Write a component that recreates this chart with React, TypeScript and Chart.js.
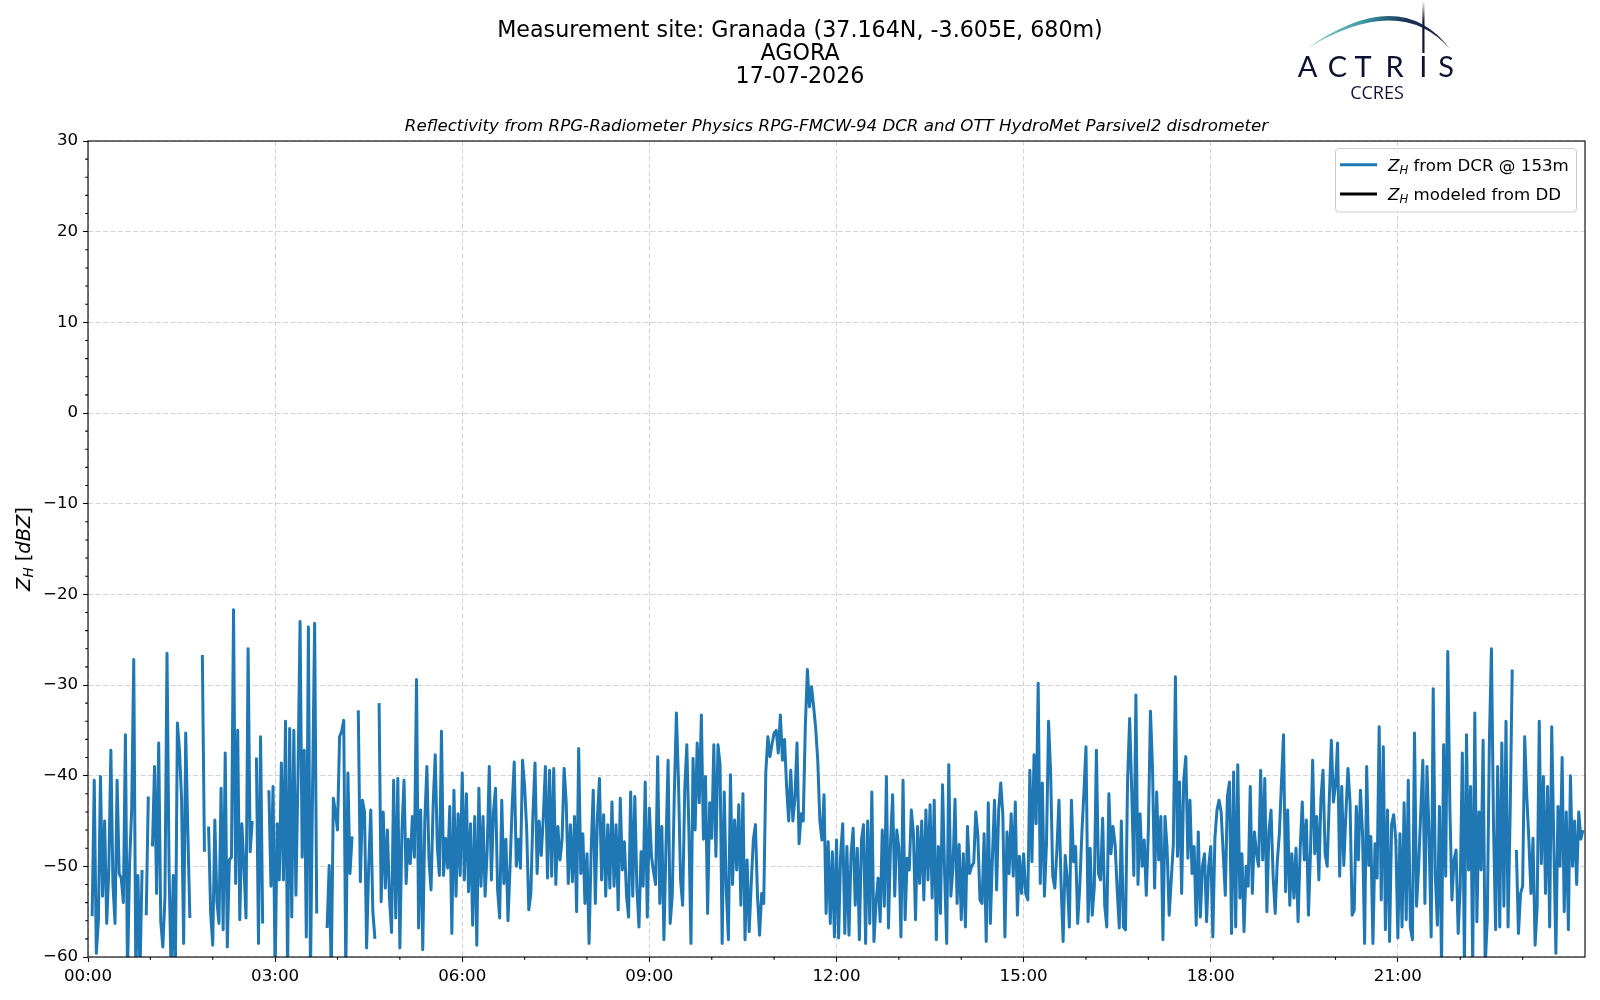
import { useEffect, useRef } from 'react';
import { Chart, registerables } from 'chart.js';

Chart.register(...registerables);
Chart.defaults.font.family = '"DejaVu Sans"';

// ---- Data: Z_H from DCR, one array per hour, 2-minute samples (null = no data) ----
const h00 = [null, null, -55.5, -40.5, -59.6, -56, -40.1, -53.3, -45, -56.3, -50.5, -37.2, -52, -56.3, -40.5, -50.8, -51.3, -54, -35.5, -62, -49.7, -43.8, -27.2, -62, -51, -62, -50.4, null, -55.4, -42.3];
const h01 = [null, -47.8, -39, -53, -36.4, -56.1, -58.9, -53.5, -26.5, -50.6, -62, -51, -62, -34.2, -37.2, -42.6, -58.5, -35.3, -46, -55.7, null, null, null, null, null, -26.7, -48.4, null, -45.6, -55.2];
const h02 = [-58.7, -44.9, -53.9, -56.3, -41.4, -57, -37.5, -58.9, -49.3, -49, -21.7, -51.9, -35, -55.9, -45.3, -50, -55.7, -26, -48.4, -45, null, -38, -58.5, -35.7, -56.3, null, null, -41.6, -52.2, -41.2];
const h03 = [-62, -45.3, -51.5, -38.6, -51.5, -34, -62, -34.8, -55.6, -35, -53.2, -40, -23, -49, -37.2, -57.8, -23.6, -62, -41.6, -23.2, -55.2, null, null, null, null, -56.8, -49.9, -62, -42.5, -44];
const h04 = [-46, -35.7, -35.1, -33.9, -62, -39.7, -50.8, -46.7, null, null, -32.8, -51.7, -42.7, -44, -59, -50, -43.8, -55, -58, null, -32, -53.9, -44, -52.4, -46, -53.5, -57.3, -40.5, -55.7, -40.3];
const h05 = [-59, -46, -40.5, -51.9, -47, -49.7, -44.5, -49, -29.4, -56.8, -43.8, -59.2, -44.9, -39, -49.3, -52.6, -43.2, -37.7, -47.8, -51, -35.1, -51, -46.9, -50.2, -43.4, -57.4, -41.6, -53.3, -44.2, -51];
const h06 = [-39.7, -51.5, -42, -52.8, -45.3, -56.5, -44.5, -58.7, -41.4, -52.2, -44.5, -53.3, -48.2, -39, -51.5, -44, -41.4, -52.6, -55.7, -42.7, -51.9, -47, -56, -50, -43.4, -38.5, -50, -47, -50.2, -38.3];
const h07 = [-41.2, -46, -54.8, -53, -44.2, -38.6, -50.8, -45, -48.8, -44.5, -39, -51.3, -39.4, -51.1, -39.2, -52, -45.6, -49.3, -47.1, -39.2, -43, -51.9, -45.4, -51.7, -44.5, -55, -37, -50.8, -46.4, -54.1];
const h08 = [-48.6, -58.5, -48.2, -41.6, -54.1, -44.7, -40.3, -51.5, -44.3, -53.3, -45.4, -52.4, -42.9, -52.2, -45.4, -54.8, -42.5, -50.4, -47.3, -53.2, -55.6, -41.8, -53.3, -42.3, -52.4, -56.7, -48.4, -52.2, -40.7, -55.6];
const h09 = [-43.6, -48.9, -50.6, -52, -37.9, -54.1, -45.6, -58.1, -47.6, -38.3, -56.3, -53.3, -42, -33.1, -40.7, -51.5, -54.3, -41.6, -36.6, -46, -58.5, -38.1, -46, -36.4, -43, -33.3, -47, -40.1, -55.2, -43];
const h10 = [-46.9, -36.6, -48.9, -36.6, -38.8, -58.5, -41.8, -52.6, -58.1, -39.9, -52, -44.9, -50.4, -43.2, -54.3, -42, -58.1, -49.3, -57.2, -51.9, -47.1, -45.4, -53.3, -57.6, -53, -54.1, -39.6, -35.7, -37.9, -36.5];
const h11 = [-35.3, -35, -37.5, -33.3, -38.3, -36, -41.2, -45, -39.4, -45, -42.5, -36.4, -47.5, -44.2, -45, -34.6, -28.3, -32.4, -30.2, -32.4, -34.8, -38.4, -45, -47.1, -42.1, -55.2, -47.3, -56.3, -48.4, -57.8];
const h12 = [-47.1, -57.9, -48.6, -45.3, -57.4, -47.8, -57.6, -48.6, -45.8, -54.3, -48, -58.1, -47.1, -45.4, -58.5, -45, -56.3, -41.8, -58.3, -54.1, -51.3, -56.1, -46, -54.4, -40.1, -56.8, -47.3, -42.1, -53.3, -46];
const h13 = [-48, -57.8, -40.5, -55.9, -49.1, -50.4, -43.8, -46.4, -55.9, -45.6, -51.9, -45, -53.7, -43.8, -51.5, -43.2, -53.5, -42.7, -58.1, -47.8, -55.2, -41, -50.8, -58.5, -38.8, -53.3, -50.2, -42.6, -54.1, -47.6];
const h14 = [-55.9, -48.6, -56.7, -45.6, -50.8, -50, -49.6, -44, -46.7, -53.7, -54.1, -46.4, -58.3, -43, -56.3, -48.9, -42.7, -52.6, -43.8, -40.8, -44.3, -57.8, -46.2, -50.8, -44.2, -51.1, -42.9, -55.4, -48.9, -53];
const h15 = [-48.6, -53, -53.7, -39.4, -49.5, -37.7, -45.3, -29.8, -51.9, -40.8, -53.3, -47.5, -34, -39.8, -51.1, -52.4, -48.2, -42.7, -51.9, -58.3, -48.8, -51.5, -56.7, -42.7, -49.5, -47.8, -56.3, -52.2, -46.4, -41.8];
const h16 = [-36.8, -56.1, -48, -55.4, -52.2, -37.2, -50.8, -51.5, -44.7, -54.3, -56.7, -42, -48.6, -45.6, -47.6, -52.6, -56.8, -45, -56.7, -57, -40.5, -33.7, -41.8, -51, -31.1, -52, -44.2, -50, -47.1, -53.2];
const h17 = [-46, -32.9, -39.2, -52.4, -41.8, -49.3, -44.5, -58.1, -44.5, -48, -55.4, -51.5, -47.6, -29.1, -48.9, -40.7, -53, -40.5, -37.9, -49.1, -42.7, -50.8, -47.8, -56.5, -46.2, -55.6, -50, -48.6, -56.1, -50];
const h18 = [-47.8, -57.8, -46.9, -43.8, -42.7, -44, -48.6, -53.2, -42.3, -40.7, -57.4, -39.6, -56.7, -38.8, -53.5, -48.6, -57.2, -50, -52.2, -41.2, -53, -46.2, -48.6, -50, -39.4, -49.3, -40.3, -55, -46, -43.8];
const h19 = [-51.1, -55.2, -49.5, -46.4, -40.8, -35.5, -52.8, -43.8, -54.3, -48.6, -53.5, -48, -56.1, -48.2, -42.9, -49.3, -44.9, -55.4, -48.2, -38.3, -48.6, -44.5, -51.5, -42.5, -39.4, -48.6, -50, -42.7, -36.1, -42.9];
const h20 = [-41, -36.4, -51.1, -41.2, -49.9, -44.2, -39.2, -43, -55.4, -54.8, -43.4, -49.3, -41.6, -46.4, -58.5, -39, -49.9, -46.7, -58.5, -47.5, -51.3, -34.6, -53.7, -36.8, -57, -43.8, -58.3, -45.4, -44.3, -47.1];
const h21 = [-57.9, -46.4, -56.7, -43, -55.9, -40.5, -56.7, -58.1, -35.3, -54.4, -50, -44, -38.3, -54.1, -39, -46.7, -57.8, -30.4, -51, -56.5, -43.4, -61, -36.6, -51.1, -26.3, -43.4, -53.7, -49.3, -48.2, -57.4];
const h22 = [-52.2, -37.5, -61, -35.5, -50.4, -41.2, -61, -33.1, -56.1, -44, -50.4, -36.1, -61, -55.9, -36.4, -26, -45.6, -57, -39, -56.7, -36.4, -54.4, -34, -56.7, -44.2, -28.3, null, -48.2, -57.4, -53];
const h23 = [-52.2, -35.7, -42.3, -47.1, -53, -46.9, -58.7, -54.4, -34, -49.7, -40.1, -53, -41.2, -56.7, -34.6, -47.5, -59.6, -43.4, -50, -38, -55, -44, -57, -40, -50, -45, -52, -44, -47, -46];

const hourlyDCR = [h00, h01, h02, h03, h04, h05, h06, h07, h08, h09, h10, h11, h12, h13, h14, h15, h16, h17, h18, h19, h20, h21, h22, h23];
const samplesPerHour = 30;
// modelled Z_H from the disdrometer: no data on this day
const modeledDD: { x: number; y: number }[] = [];

const xTickHours = [0, 3, 6, 9, 12, 15, 18, 21];
const xTickLabels = ['00:00', '03:00', '06:00', '09:00', '12:00', '15:00', '18:00', '21:00'];
const yTicks = [-60, -50, -40, -30, -20, -10, 0, 10, 20, 30];

const titleLines = ['Measurement site: Granada (37.164N, -3.605E, 680m)', 'AGORA', '17-07-2026'];
const subtitle = 'Reflectivity from RPG-Radiometer Physics RPG-FMCW-94 DCR and OTT HydroMet Parsivel2 disdrometer';
const legendTexts = [' from DCR @ 153m', ' modeled from DD'];

const BLUE = '#1f77b4';
const FONT = '"DejaVu Sans"';

type Run = { t: string; size: number; italic?: boolean; dy?: number };

function drawRuns(ctx: CanvasRenderingContext2D, runs: Run[], x: number, baseline: number, align: 'left' | 'center') {
  const fontOf = (r: Run) => `${r.italic ? 'italic ' : ''}${r.size}px ${FONT}`;
  const widths = runs.map((r) => {
    ctx.font = fontOf(r);
    return ctx.measureText(r.t).width;
  });
  const total = widths.reduce((a, b) => a + b, 0);
  let cx = align === 'center' ? x - total / 2 : x;
  ctx.textAlign = 'left';
  ctx.textBaseline = 'alphabetic';
  runs.forEach((r, i) => {
    ctx.font = fontOf(r);
    ctx.fillText(r.t, cx, baseline + (r.dy || 0));
    cx += widths[i];
  });
}

function zh(size: number): Run[] {
  return [
    { t: 'Z', size, italic: true },
    { t: 'H', size: size * 0.7, italic: true, dy: size * 0.2 },
  ];
}

const decorPlugin = {
  id: 'decor',
  afterDraw(chart: any) {
    const ctx: CanvasRenderingContext2D = chart.ctx;
    const { left, right, top, bottom } = chart.chartArea;
    const xs = chart.scales.x;
    const ys = chart.scales.y;
    ctx.save();
    // minor ticks
    ctx.strokeStyle = '#000';
    ctx.lineWidth = 1.1;
    ctx.beginPath();
    for (let h = 1; h < 24; h++) {
      if (h % 3 === 0) continue;
      const px = xs.getPixelForValue(h);
      ctx.moveTo(px, bottom);
      ctx.lineTo(px, bottom + 2.8);
    }
    for (let v = -58; v < 30; v += 2) {
      if (v % 10 === 0) continue;
      const py = ys.getPixelForValue(v);
      ctx.moveTo(left - 2.8, py);
      ctx.lineTo(left, py);
    }
    ctx.stroke();
    // frame (spines)
    ctx.strokeRect(left, top, right - left, bottom - top);

    // titles
    ctx.fillStyle = '#000';
    ctx.textAlign = 'center';
    ctx.textBaseline = 'middle';
    ctx.font = `22.2px ${FONT}`;
    const ly = [31.7, 54.3, 77.6];
    titleLines.forEach((t, i) => ctx.fillText(t, 800, ly[i]));
    ctx.font = `italic 16.67px ${FONT}`;
    ctx.fillText(subtitle, (left + right) / 2, 126.5);

    // y-axis label
    ctx.save();
    ctx.translate(22.5, (top + bottom) / 2);
    ctx.rotate(-Math.PI / 2);
    const ys1 = 19.44;
    drawRuns(
      ctx,
      [...zh(ys1), { t: ' [', size: ys1 }, { t: 'dBZ', size: ys1, italic: true }, { t: ']', size: ys1 }],
      0,
      7,
      'center'
    );
    ctx.restore();

    // legend
    const bx = 1335.5, by = 148.5, bw = 241, bh = 63.5, r = 3.5;
    ctx.beginPath();
    ctx.moveTo(bx + r, by);
    ctx.lineTo(bx + bw - r, by);
    ctx.arcTo(bx + bw, by, bx + bw, by + r, r);
    ctx.lineTo(bx + bw, by + bh - r);
    ctx.arcTo(bx + bw, by + bh, bx + bw - r, by + bh, r);
    ctx.lineTo(bx + r, by + bh);
    ctx.arcTo(bx, by + bh, bx, by + bh - r, r);
    ctx.lineTo(bx, by + r);
    ctx.arcTo(bx, by, bx + r, by, r);
    ctx.closePath();
    ctx.fillStyle = 'rgba(255,255,255,0.8)';
    ctx.fill();
    ctx.strokeStyle = '#cccccc';
    ctx.lineWidth = 1;
    ctx.stroke();
    const rows = [
      { y: 164.8, color: chart.data.datasets[0].borderColor, text: legendTexts[0] },
      { y: 194.1, color: chart.data.datasets[1].borderColor, text: legendTexts[1] },
    ];
    rows.forEach((row) => {
      ctx.beginPath();
      ctx.strokeStyle = row.color;
      ctx.lineWidth = 3;
      ctx.moveTo(1340, row.y);
      ctx.lineTo(1377, row.y);
      ctx.stroke();
      ctx.fillStyle = '#000';
      drawRuns(ctx, [...zh(16.67), { t: row.text, size: 16.67 }], 1388, row.y + 6, 'left');
    });
    ctx.restore();
  },
};

export default function App() {
  const canvasRef = useRef<HTMLCanvasElement | null>(null);

  useEffect(() => {
    if (!canvasRef.current) return;
    const points = hourlyDCR.flatMap((arr, h) =>
      arr.map((v, k) => ({ x: h + k / samplesPerHour, y: v as number | null }))
    );
    const tickFont = { size: 16.67, family: FONT };
    const chart = new Chart(canvasRef.current, {
      type: 'line',
      data: {
        datasets: [
          {
            label: 'ZH from DCR @ 153m',
            data: points as any,
            borderColor: BLUE,
            backgroundColor: BLUE,
            borderWidth: 3,
            pointRadius: 0,
            tension: 0,
            spanGaps: false,
            fill: false,
            clip: 0 as any,
            borderJoinStyle: 'round',
            borderCapStyle: 'butt',
          },
          {
            label: 'ZH modeled from DD',
            data: modeledDD as any,
            borderColor: '#000000',
            backgroundColor: '#000000',
            borderWidth: 3,
            pointRadius: 0,
            fill: false,
          },
        ],
      },
      options: {
        animation: false,
        responsive: false,
        devicePixelRatio: 1,
        events: [],
        layout: { padding: { left: 0, right: 15, top: 141, bottom: 0 } },
        plugins: {
          legend: { display: false },
          tooltip: { enabled: false },
          title: { display: false },
        },
        scales: {
          x: {
            type: 'linear',
            min: 0,
            max: 24,
            afterBuildTicks: (s: any) => {
              s.ticks = xTickHours.map((v) => ({ value: v }));
            },
            afterFit: (s: any) => {
              s.height = 43;
            },
            ticks: {
              callback: (_v: any, i: number) => xTickLabels[i],
              font: tickFont,
              color: '#000',
              padding: 5,
              maxRotation: 0,
              autoSkip: false,
            },
            grid: { color: '#d3d3d3', lineWidth: 1, tickColor: '#000', tickLength: 4.9, tickWidth: 1.1 },
            border: { display: false, dash: [5, 2.5] },
          },
          y: {
            type: 'linear',
            min: -60,
            max: 30,
            afterBuildTicks: (s: any) => {
              s.ticks = yTicks.map((v) => ({ value: v }));
            },
            afterFit: (s: any) => {
              s.width = 88;
            },
            ticks: {
              callback: (v: any) => (Number(v) < 0 ? '\u2212' + Math.abs(Number(v)) : String(v)),
              font: tickFont,
              color: '#000',
              padding: 4.9,
            },
            grid: { color: '#d3d3d3', lineWidth: 1, tickColor: '#000', tickLength: 4.9, tickWidth: 1.1 },
            border: { display: false, dash: [5, 2.5] },
          },
        },
      } as any,
      plugins: [decorPlugin],
    });
    return () => chart.destroy();
  }, []);

  return (
    <div style={{ position: 'absolute', left: 0, top: 0, width: 1600, height: 1000, background: '#fff' }}>
      <canvas ref={canvasRef} width={1600} height={1000} style={{ position: 'absolute', left: 0, top: 0 }} />
      <svg width={1600} height={110} style={{ position: 'absolute', left: 0, top: 0 }}>
        <defs>
          <linearGradient id="arcG" gradientUnits="userSpaceOnUse" x1="1306" y1="0" x2="1450" y2="0">
            <stop offset="0" stopColor="#8fd6d0" />
            <stop offset="0.4" stopColor="#3b98a4" />
            <stop offset="0.7" stopColor="#1d3358" />
            <stop offset="1" stopColor="#111432" />
          </linearGradient>
          <linearGradient id="barG" gradientUnits="userSpaceOnUse" x1="0" y1="1" x2="0" y2="53">
            <stop offset="0" stopColor="#111432" stopOpacity="0" />
            <stop offset="0.4" stopColor="#111432" stopOpacity="1" />
            <stop offset="1" stopColor="#111432" stopOpacity="1" />
          </linearGradient>
        </defs>
        <path d="M1306 49 Q1400 -17 1450 49 Q1400 -8 1306 49 Z" fill="url(#arcG)" />
        <rect x={1422.3} y={1} width={2.2} height={52} fill="url(#barG)" />
        <text x={1307.5} y={77.3} fontSize={29} textAnchor="middle" fontFamily="Lato, 'Noto Sans', sans-serif" fill="#0f1130">A</text>
        <text x={1337.5} y={77.3} fontSize={29} textAnchor="middle" fontFamily="Lato, 'Noto Sans', sans-serif" fill="#0f1130">C</text>
        <text x={1363} y={77.3} fontSize={29} textAnchor="middle" fontFamily="Lato, 'Noto Sans', sans-serif" fill="#0f1130">T</text>
        <text x={1394.5} y={77.3} fontSize={29} textAnchor="middle" fontFamily="Lato, 'Noto Sans', sans-serif" fill="#0f1130">R</text>
        <text x={1423.4} y={77.3} fontSize={29} textAnchor="middle" fontFamily="Lato, 'Noto Sans', sans-serif" fill="#0f1130">I</text>
        <text x={1446} y={77.3} fontSize={29} textAnchor="middle" fontFamily="Lato, 'Noto Sans', sans-serif" fill="#0f1130">S</text>
        <text x={1377} y={99} fontSize={18} textAnchor="middle" fontFamily="'Open Sans', 'Noto Sans', sans-serif" fill="#141634">
          CCRES
        </text>
      </svg>
    </div>
  );
}
